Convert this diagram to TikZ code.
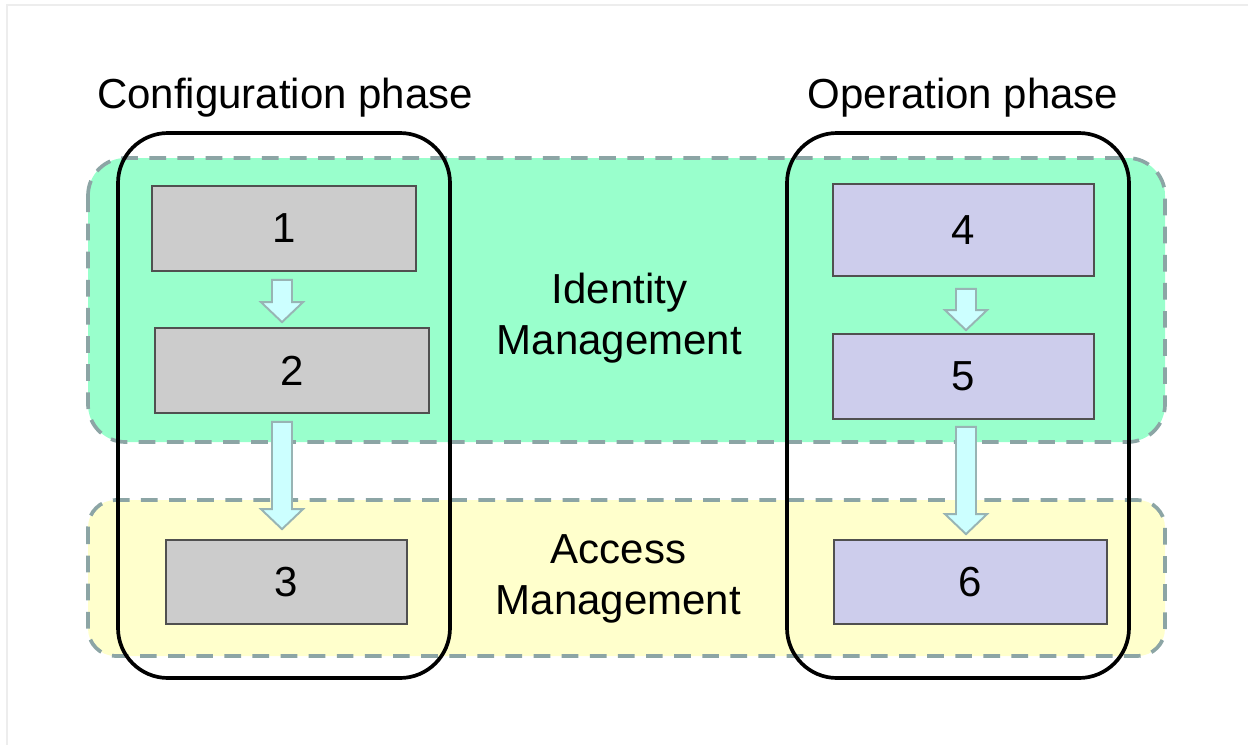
\documentclass[tikz,border=0pt]{standalone}
\usepackage{fontspec}
\setmainfont{Liberation Sans}
\usetikzlibrary{calc}

\definecolor{idgreen}{HTML}{99FFCC}
\definecolor{acyellow}{HTML}{FFFFCC}
\definecolor{regionline}{HTML}{8CA5A5}
\definecolor{cfggray}{HTML}{CCCCCC}
\definecolor{oplav}{HTML}{CDCDEC}
\definecolor{boxline}{HTML}{505050}
\definecolor{flowfill}{HTML}{CCFFFF}
\definecolor{flowline}{HTML}{98B4B4}

\tikzset{
  region/.style={draw=regionline, line width=2.1pt, dash pattern=on 9.5pt off 6.5pt},
  phase/.style={draw=black, line width=2.1pt, rounded corners=1cm},
  cfgbox/.style={draw=boxline, fill=cfggray, line width=1pt, inner sep=0pt},
  opbox/.style={cfgbox, fill=oplav},
  flow/.style={draw=flowline, fill=flowfill, line width=1.1pt},
  title/.style={font=\fontsize{23.9}{29}\selectfont},
}

% block arrow from #1 straight down to the height of #2
\newcommand\flowarrow[2]{%
  \draw[flow] let \p1=(#1), \p2=(#2) in
    (\x1-0.2cm,\y1) -- (\x1+0.2cm,\y1) -- (\x1+0.2cm,\y2+0.4cm)
    -- (\x1+0.42cm,\y2+0.4cm) -- (\x1,\y2) -- (\x1-0.42cm,\y2+0.4cm)
    -- (\x1-0.2cm,\y2+0.4cm) -- cycle;}

\begin{document}
\begin{tikzpicture}[x={(0.02cm,0)}, y={(0,-0.02cm)}]
  \useasboundingbox (0,0) rectangle (1248,745);
  \draw[black!7, line width=1.2pt] (7,745) -- (7,5) -- (1248,5);

  % management layers
  \draw[region, fill=idgreen, rounded corners=0.75cm] (88,158) rectangle (1165,442);
  \draw[region, fill=acyellow, rounded corners=0.55cm] (88,500) rectangle (1165,656);

  % phases
  \draw[phase] (118,133) rectangle (450,678);
  \draw[phase] (787,133) rectangle (1129,678);
  \node[title, anchor=base] (cfg) at (285,108) {Configuration phase};
  \node[title, anchor=base] (op) at (963,108) {Operation phase};

  \node[title, align=center] (idm) at (619.5,318) {Identity\\Management};
  \node[title, align=center] (acm) at (618.5,579) {Access\\Management};

  % steps
  \node[cfgbox, minimum width=5.28cm, minimum height=1.70cm, title] (b1) at (284,228.5) {1};
  \node[cfgbox, minimum width=5.48cm, minimum height=1.70cm, title] (b2) at (292,370.5) {2};
  \node[cfgbox, minimum width=4.82cm, minimum height=1.68cm, title] (b3) at (286.5,582) {3};
  \node[opbox, minimum width=5.22cm, minimum height=1.84cm, title] (b4) at (963.5,230) {4};
  \node[opbox, minimum width=5.22cm, minimum height=1.70cm, title] (b5) at (963.5,376.5) {5};
  \node[opbox, minimum width=5.46cm, minimum height=1.68cm, title] (b6) at (970.5,582) {6};

  \flowarrow{$(b1.south)+(-2,8)$}{$(b2.north)+(0,-5)$}
  \flowarrow{$(b2.south)+(-10,8)$}{$(b3.north)+(0,-10)$}
  \flowarrow{$(b4.south)+(2.5,12)$}{$(b5.north)+(0,-3)$}
  \flowarrow{$(b5.south)+(2.5,7)$}{$(b6.north)+(0,-5)$}
\end{tikzpicture}
\end{document}
